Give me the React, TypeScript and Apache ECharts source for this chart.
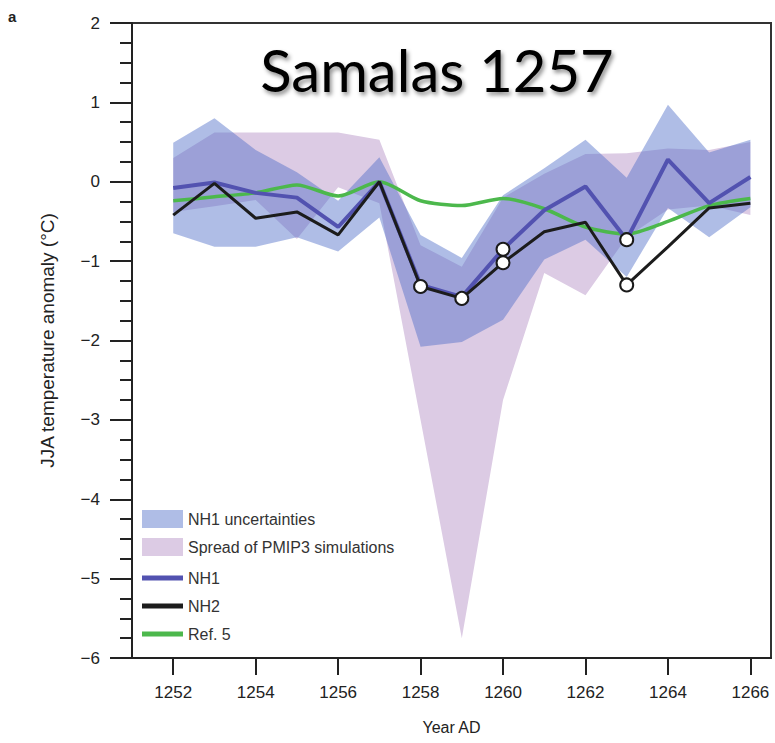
import React, { useEffect, useRef } from "react";
import * as echarts from "echarts";

const years = [1252, 1253, 1254, 1255, 1256, 1257, 1258, 1259, 1260, 1261, 1262, 1263, 1264, 1265, 1266];
const xTickYears = [1252, 1254, 1256, 1258, 1260, 1262, 1264, 1266];

const nh1 = [-0.08, -0.01, -0.14, -0.2, -0.57, 0.0, -1.3, -1.45, -0.85, -0.36, -0.06, -0.73, 0.28, -0.27, 0.06];
const nh2 = [-0.42, -0.02, -0.46, -0.38, -0.67, 0.0, -1.32, -1.47, -1.02, -0.63, -0.51, -1.3, -0.82, -0.33, -0.27];
const ref5 = [-0.24, -0.19, -0.14, -0.04, -0.18, 0.0, -0.24, -0.3, -0.21, -0.34, -0.57, -0.66, -0.5, -0.3, -0.21];

const nh1UncHigh = [0.49, 0.8, 0.4, 0.12, -0.24, 0.31, -0.67, -0.96, -0.17, 0.17, 0.53, 0.05, 0.97, 0.37, 0.53];
const nh1UncLow = [-0.65, -0.82, -0.82, -0.7, -0.88, -0.45, -2.08, -2.02, -1.74, -0.98, -0.73, -1.2, -0.33, -0.7, -0.32];

const pmipHigh = [0.3, 0.62, 0.62, 0.62, 0.62, 0.53, -0.8, -1.07, -0.2, 0.1, 0.35, 0.36, 0.42, 0.4, 0.5];
const pmipLow = [-0.38, -0.31, -0.23, -0.72, -0.07, -0.27, -3.0, -5.75, -2.75, -1.15, -1.43, -0.7, -0.35, -0.3, -0.42];

const nh1MarkerYears = [1260, 1263];
const nh2MarkerYears = [1258, 1259, 1260, 1263];

const FONT = "'Liberation Sans', Arial, sans-serif";

function bandSeries(name: string, low: number[], high: number[], fill: string, z: number) {
  return {
    name,
    type: "custom",
    z,
    silent: true,
    itemStyle: { color: fill },
    data: years.map((y, i) => [y, low[i], high[i]]),
    encode: { x: 0, y: [1, 2] },
    renderItem: (params: any, api: any) => {
      if (params.dataIndex !== 0) return { type: "group", children: [] };
      const top = years.map((y, i) => api.coord([y, high[i]]));
      const bottom = years.map((y, i) => api.coord([y, low[i]])).reverse();
      return {
        type: "polygon",
        shape: { points: top.concat(bottom) },
        style: { fill },
      };
    },
  };
}

function lineData(values: number[], markerYears: number[]) {
  return years.map((y, i) =>
    markerYears.includes(y)
      ? {
          value: [y, values[i]],
          symbol: "circle",
          symbolSize: 13,
          itemStyle: { color: "#ffffff", borderColor: "#1a1a1a", borderWidth: 2 },
        }
      : { value: [y, values[i]], symbol: "none" }
  );
}

export default function App() {
  const ref = useRef<HTMLDivElement>(null);
  useEffect(() => {
    document.body.style.margin = "0";
    if (!ref.current) return;
    const chart = echarts.init(ref.current, undefined, { renderer: "svg" });
    const fmt = (v: number) => String(v).replace("-", "\u2212");
    chart.setOption({
      animation: false,
      textStyle: { fontFamily: FONT },
      title: {
        text: "Samalas 1257",
        left: 437,
        top: 40,
        textAlign: "center",
        padding: 0,
        textStyle: {
          fontFamily: "Lato, 'Open Sans', sans-serif",
          fontSize: 58,
          fontWeight: "normal",
          color: "#000",
          textShadowColor: "rgba(0,0,0,0.45)",
          textShadowBlur: 4,
          textShadowOffsetX: 2,
          textShadowOffsetY: 3,
        },
      },
      grid: {
        left: 132,
        right: 4,
        top: 23,
        bottom: 85,
        show: true,
        borderColor: "#333",
        borderWidth: 2,
      },
      xAxis: {
        type: "value",
        min: 1251,
        max: 1266.5,
        name: "Year AD",
        nameLocation: "middle",
        nameGap: 61,
        nameTextStyle: { fontSize: 16, color: "#222", fontFamily: FONT },
        axisLine: { show: true, onZero: false, lineStyle: { color: "#222", width: 2 } },
        axisTick: {
          show: true,
          customValues: xTickYears,
          length: 17,
          lineStyle: { color: "#222", width: 2 },
        },
        axisLabel: {
          customValues: xTickYears,
          fontSize: 17,
          color: "#222",
          margin: 26,
          formatter: (v: number) => String(v),
        },
        splitLine: { show: false },
      },
      yAxis: {
        type: "value",
        min: -6,
        max: 2,
        interval: 1,
        name: "JJA temperature anomaly (\u00B0C)",
        nameLocation: "middle",
        nameGap: 75,
        nameRotate: 90,
        nameTextStyle: { fontSize: 19, color: "#222", fontFamily: FONT },
        axisLine: { show: true, onZero: false, lineStyle: { color: "#222", width: 2 } },
        axisTick: { show: true, length: 22, lineStyle: { color: "#222", width: 2 } },
        minorTick: { show: true, splitNumber: 4, length: 12, lineStyle: { color: "#222", width: 2 } },
        axisLabel: { fontSize: 17, color: "#222", margin: 32, formatter: fmt },
        splitLine: { show: false },
        minorSplitLine: { show: false },
      },
      legend: [
        {
          data: ["NH1 uncertainties", "Spread of PMIP3 simulations"],
          orient: "vertical",
          left: 142,
          top: 510,
          padding: 0,
          icon: "rect",
          itemWidth: 41,
          itemHeight: 18,
          itemGap: 10,
          textStyle: { fontSize: 16, lineHeight: 18, color: "#333", fontFamily: FONT },
        },
        {
          data: ["NH1", "NH2", "Ref. 5"],
          orient: "vertical",
          left: 142,
          top: 569,
          padding: 0,
          icon: "rect",
          itemWidth: 41,
          itemHeight: 5,
          itemGap: 10,
          textStyle: { fontSize: 16, lineHeight: 18, color: "#333", fontFamily: FONT },
        },
      ],
      graphic: [
        {
          type: "text",
          left: 8,
          top: 9,
          style: { text: "a", font: `bold 15px ${FONT}`, fill: "#222" },
        },
      ],
      series: [
        bandSeries("Spread of PMIP3 simulations", pmipLow, pmipHigh, "rgb(220,203,228)", 1),
        bandSeries("NH1 uncertainties", nh1UncLow, nh1UncHigh, "rgba(78,109,200,0.45)", 2),
        {
          name: "Ref. 5",
          type: "line",
          z: 3,
          smooth: 0.25,
          itemStyle: { color: "#4cb84c" },
          lineStyle: { color: "#4cb84c", width: 3.5 },
          data: years.map((y, i) => ({ value: [y, ref5[i]], symbol: "none" })),
        },
        {
          name: "NH1",
          type: "line",
          z: 4,
          itemStyle: { color: "#5252b0" },
          lineStyle: { color: "#5252b0", width: 4 },
          data: lineData(nh1, nh1MarkerYears),
        },
        {
          name: "NH2",
          type: "line",
          z: 5,
          itemStyle: { color: "#1c1c1c" },
          lineStyle: { color: "#1c1c1c", width: 3 },
          data: lineData(nh2, nh2MarkerYears),
        },
      ],
    });
    return () => chart.dispose();
  }, []);
  return <div ref={ref} style={{ width: 775, height: 743 }} />;
}
